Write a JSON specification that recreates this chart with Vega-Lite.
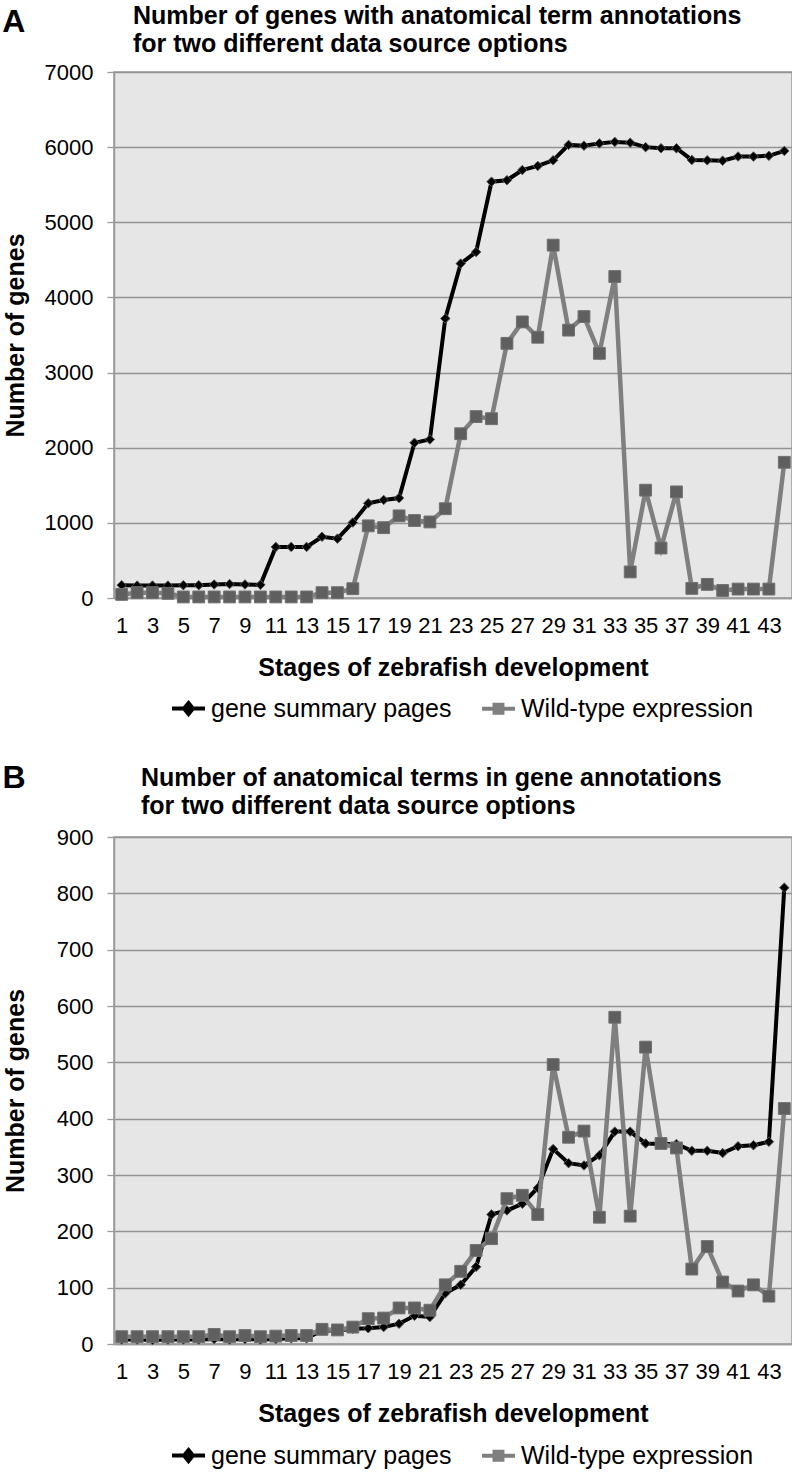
{
  "$schema": "https://vega.github.io/schema/vega-lite/v6.json",
  "background": "white",
  "padding": {"left": 2, "top": 3, "right": 0, "bottom": 0},
  "datasets": {
    "A": [
      {"stage": 1, "series": "gene summary pages", "value": 170}, {"stage": 2, "series": "gene summary pages", "value": 165}, {"stage": 3, "series": "gene summary pages", "value": 165}, {"stage": 4, "series": "gene summary pages", "value": 165}, {"stage": 5, "series": "gene summary pages", "value": 170}, {"stage": 6, "series": "gene summary pages", "value": 170}, {"stage": 7, "series": "gene summary pages", "value": 180}, {"stage": 8, "series": "gene summary pages", "value": 185}, {"stage": 9, "series": "gene summary pages", "value": 180}, {"stage": 10, "series": "gene summary pages", "value": 175},
      {"stage": 11, "series": "gene summary pages", "value": 680}, {"stage": 12, "series": "gene summary pages", "value": 680}, {"stage": 13, "series": "gene summary pages", "value": 680}, {"stage": 14, "series": "gene summary pages", "value": 815}, {"stage": 15, "series": "gene summary pages", "value": 790}, {"stage": 16, "series": "gene summary pages", "value": 1005}, {"stage": 17, "series": "gene summary pages", "value": 1260}, {"stage": 18, "series": "gene summary pages", "value": 1305}, {"stage": 19, "series": "gene summary pages", "value": 1330}, {"stage": 20, "series": "gene summary pages", "value": 2065},
      {"stage": 21, "series": "gene summary pages", "value": 2110}, {"stage": 22, "series": "gene summary pages", "value": 3720}, {"stage": 23, "series": "gene summary pages", "value": 4450}, {"stage": 24, "series": "gene summary pages", "value": 4605}, {"stage": 25, "series": "gene summary pages", "value": 5540}, {"stage": 26, "series": "gene summary pages", "value": 5560}, {"stage": 27, "series": "gene summary pages", "value": 5695}, {"stage": 28, "series": "gene summary pages", "value": 5750}, {"stage": 29, "series": "gene summary pages", "value": 5825}, {"stage": 30, "series": "gene summary pages", "value": 6030},
      {"stage": 31, "series": "gene summary pages", "value": 6020}, {"stage": 32, "series": "gene summary pages", "value": 6050}, {"stage": 33, "series": "gene summary pages", "value": 6070}, {"stage": 34, "series": "gene summary pages", "value": 6060}, {"stage": 35, "series": "gene summary pages", "value": 6000}, {"stage": 36, "series": "gene summary pages", "value": 5985}, {"stage": 37, "series": "gene summary pages", "value": 5985}, {"stage": 38, "series": "gene summary pages", "value": 5830}, {"stage": 39, "series": "gene summary pages", "value": 5825}, {"stage": 40, "series": "gene summary pages", "value": 5820},
      {"stage": 41, "series": "gene summary pages", "value": 5875}, {"stage": 42, "series": "gene summary pages", "value": 5875}, {"stage": 43, "series": "gene summary pages", "value": 5885}, {"stage": 44, "series": "gene summary pages", "value": 5950},
      {"stage": 1, "series": "Wild-type expression", "value": 48}, {"stage": 2, "series": "Wild-type expression", "value": 71}, {"stage": 3, "series": "Wild-type expression", "value": 71}, {"stage": 4, "series": "Wild-type expression", "value": 62}, {"stage": 5, "series": "Wild-type expression", "value": 14}, {"stage": 6, "series": "Wild-type expression", "value": 14}, {"stage": 7, "series": "Wild-type expression", "value": 14}, {"stage": 8, "series": "Wild-type expression", "value": 14}, {"stage": 9, "series": "Wild-type expression", "value": 14}, {"stage": 10, "series": "Wild-type expression", "value": 14},
      {"stage": 11, "series": "Wild-type expression", "value": 14}, {"stage": 12, "series": "Wild-type expression", "value": 14}, {"stage": 13, "series": "Wild-type expression", "value": 14}, {"stage": 14, "series": "Wild-type expression", "value": 71}, {"stage": 15, "series": "Wild-type expression", "value": 71}, {"stage": 16, "series": "Wild-type expression", "value": 124}, {"stage": 17, "series": "Wild-type expression", "value": 960}, {"stage": 18, "series": "Wild-type expression", "value": 936}, {"stage": 19, "series": "Wild-type expression", "value": 1093}, {"stage": 20, "series": "Wild-type expression", "value": 1031},
      {"stage": 21, "series": "Wild-type expression", "value": 1012}, {"stage": 22, "series": "Wild-type expression", "value": 1188}, {"stage": 23, "series": "Wild-type expression", "value": 2186}, {"stage": 24, "series": "Wild-type expression", "value": 2414}, {"stage": 25, "series": "Wild-type expression", "value": 2386}, {"stage": 26, "series": "Wild-type expression", "value": 3389}, {"stage": 27, "series": "Wild-type expression", "value": 3674}, {"stage": 28, "series": "Wild-type expression", "value": 3470}, {"stage": 29, "series": "Wild-type expression", "value": 4696}, {"stage": 30, "series": "Wild-type expression", "value": 3565},
      {"stage": 31, "series": "Wild-type expression", "value": 3745}, {"stage": 32, "series": "Wild-type expression", "value": 3256}, {"stage": 33, "series": "Wild-type expression", "value": 4278}, {"stage": 34, "series": "Wild-type expression", "value": 347}, {"stage": 35, "series": "Wild-type expression", "value": 1435}, {"stage": 36, "series": "Wild-type expression", "value": 665}, {"stage": 37, "series": "Wild-type expression", "value": 1412}, {"stage": 38, "series": "Wild-type expression", "value": 128}, {"stage": 39, "series": "Wild-type expression", "value": 181}, {"stage": 40, "series": "Wild-type expression", "value": 100},
      {"stage": 41, "series": "Wild-type expression", "value": 119}, {"stage": 42, "series": "Wild-type expression", "value": 119}, {"stage": 43, "series": "Wild-type expression", "value": 119}, {"stage": 44, "series": "Wild-type expression", "value": 1806}
    ],
    "B": [
      {"stage": 1, "series": "gene summary pages", "value": 8}, {"stage": 2, "series": "gene summary pages", "value": 8}, {"stage": 3, "series": "gene summary pages", "value": 7}, {"stage": 4, "series": "gene summary pages", "value": 8}, {"stage": 5, "series": "gene summary pages", "value": 8}, {"stage": 6, "series": "gene summary pages", "value": 8}, {"stage": 7, "series": "gene summary pages", "value": 9}, {"stage": 8, "series": "gene summary pages", "value": 8}, {"stage": 9, "series": "gene summary pages", "value": 9}, {"stage": 10, "series": "gene summary pages", "value": 8},
      {"stage": 11, "series": "gene summary pages", "value": 9}, {"stage": 12, "series": "gene summary pages", "value": 10}, {"stage": 13, "series": "gene summary pages", "value": 10}, {"stage": 14, "series": "gene summary pages", "value": 24}, {"stage": 15, "series": "gene summary pages", "value": 24}, {"stage": 16, "series": "gene summary pages", "value": 27}, {"stage": 17, "series": "gene summary pages", "value": 28}, {"stage": 18, "series": "gene summary pages", "value": 30}, {"stage": 19, "series": "gene summary pages", "value": 36}, {"stage": 20, "series": "gene summary pages", "value": 50},
      {"stage": 21, "series": "gene summary pages", "value": 48}, {"stage": 22, "series": "gene summary pages", "value": 90}, {"stage": 23, "series": "gene summary pages", "value": 105}, {"stage": 24, "series": "gene summary pages", "value": 137}, {"stage": 25, "series": "gene summary pages", "value": 230}, {"stage": 26, "series": "gene summary pages", "value": 237}, {"stage": 27, "series": "gene summary pages", "value": 249}, {"stage": 28, "series": "gene summary pages", "value": 277}, {"stage": 29, "series": "gene summary pages", "value": 346}, {"stage": 30, "series": "gene summary pages", "value": 321},
      {"stage": 31, "series": "gene summary pages", "value": 317}, {"stage": 32, "series": "gene summary pages", "value": 335}, {"stage": 33, "series": "gene summary pages", "value": 377}, {"stage": 34, "series": "gene summary pages", "value": 377}, {"stage": 35, "series": "gene summary pages", "value": 356}, {"stage": 36, "series": "gene summary pages", "value": 355}, {"stage": 37, "series": "gene summary pages", "value": 355}, {"stage": 38, "series": "gene summary pages", "value": 343}, {"stage": 39, "series": "gene summary pages", "value": 343}, {"stage": 40, "series": "gene summary pages", "value": 339},
      {"stage": 41, "series": "gene summary pages", "value": 351}, {"stage": 42, "series": "gene summary pages", "value": 353}, {"stage": 43, "series": "gene summary pages", "value": 359}, {"stage": 44, "series": "gene summary pages", "value": 810},
      {"stage": 1, "series": "Wild-type expression", "value": 13}, {"stage": 2, "series": "Wild-type expression", "value": 13}, {"stage": 3, "series": "Wild-type expression", "value": 13}, {"stage": 4, "series": "Wild-type expression", "value": 13}, {"stage": 5, "series": "Wild-type expression", "value": 13}, {"stage": 6, "series": "Wild-type expression", "value": 13}, {"stage": 7, "series": "Wild-type expression", "value": 17}, {"stage": 8, "series": "Wild-type expression", "value": 13}, {"stage": 9, "series": "Wild-type expression", "value": 15}, {"stage": 10, "series": "Wild-type expression", "value": 13},
      {"stage": 11, "series": "Wild-type expression", "value": 14}, {"stage": 12, "series": "Wild-type expression", "value": 15}, {"stage": 13, "series": "Wild-type expression", "value": 15}, {"stage": 14, "series": "Wild-type expression", "value": 26}, {"stage": 15, "series": "Wild-type expression", "value": 25}, {"stage": 16, "series": "Wild-type expression", "value": 30}, {"stage": 17, "series": "Wild-type expression", "value": 45}, {"stage": 18, "series": "Wild-type expression", "value": 46}, {"stage": 19, "series": "Wild-type expression", "value": 64}, {"stage": 20, "series": "Wild-type expression", "value": 64},
      {"stage": 21, "series": "Wild-type expression", "value": 60}, {"stage": 22, "series": "Wild-type expression", "value": 105}, {"stage": 23, "series": "Wild-type expression", "value": 129}, {"stage": 24, "series": "Wild-type expression", "value": 166}, {"stage": 25, "series": "Wild-type expression", "value": 187}, {"stage": 26, "series": "Wild-type expression", "value": 258}, {"stage": 27, "series": "Wild-type expression", "value": 264}, {"stage": 28, "series": "Wild-type expression", "value": 230}, {"stage": 29, "series": "Wild-type expression", "value": 496}, {"stage": 30, "series": "Wild-type expression", "value": 367},
      {"stage": 31, "series": "Wild-type expression", "value": 378}, {"stage": 32, "series": "Wild-type expression", "value": 225}, {"stage": 33, "series": "Wild-type expression", "value": 580}, {"stage": 34, "series": "Wild-type expression", "value": 227}, {"stage": 35, "series": "Wild-type expression", "value": 527}, {"stage": 36, "series": "Wild-type expression", "value": 356}, {"stage": 37, "series": "Wild-type expression", "value": 348}, {"stage": 38, "series": "Wild-type expression", "value": 133}, {"stage": 39, "series": "Wild-type expression", "value": 173}, {"stage": 40, "series": "Wild-type expression", "value": 110},
      {"stage": 41, "series": "Wild-type expression", "value": 94}, {"stage": 42, "series": "Wild-type expression", "value": 105}, {"stage": 43, "series": "Wild-type expression", "value": 85}, {"stage": 44, "series": "Wild-type expression", "value": 418}
    ]
  },
  "config": {
    "font": "Liberation Sans",
    "view": {"fill": "#e6e6e6", "stroke": "#9a9a9a", "strokeWidth": 1.5},
    "axis": {
      "labelFont": "Liberation Sans", "labelFontSize": 22, "labelColor": "#000000",
      "titleFont": "Liberation Sans", "titleFontSize": 25, "titleFontWeight": "bold", "titleColor": "#000000",
      "gridColor": "#939393", "gridWidth": 1.3, "domainColor": "#9a9a9a", "domainWidth": 1.5, "tickColor": "#9a9a9a", "tickWidth": 1.3
    },
    "title": {"font": "Liberation Sans", "fontSize": 25, "fontWeight": "bold", "color": "#000000"}
  },
  "resolve": {"scale": {"color": "independent"}, "legend": {"color": "independent"}},
  "spacing": 40,
  "vconcat": [
    {
      "title": {"text": "A", "anchor": "start", "frame": "bounds", "fontSize": 32, "offset": 0, "dy": 36},
      "vconcat": [
        {
          "width": 678, "height": 526,
          "title": {"text": ["Number of genes with anatomical term annotations", "for two different data source options"], "anchor": "start", "frame": "group", "dx": 19, "offset": 4, "lineHeight": 28},
          "data": {"name": "A"},
          "encoding": {
            "x": {"field": "stage", "type": "ordinal", "axis": {"values": [1,3,5,7,9,11,13,15,17,19,21,23,25,27,29,31,33,35,37,39,41,43], "labelAngle": 0, "ticks": false, "grid": false, "labelPadding": 17, "titlePadding": 19, "title": "Stages of zebrafish development", "labelOverlap": false}},
            "y": {"field": "value", "type": "quantitative", "scale": {"domain": [0, 7000], "nice": false}, "axis": {"values": [0,1000,2000,3000,4000,5000,6000,7000], "format": "d", "tickSize": 7, "labelPadding": 14, "titlePadding": 16, "title": "Number of genes"}}
          },
          "layer": [
            {"transform": [{"filter": "datum.series === 'gene summary pages'"}], "mark": {"type": "line", "strokeWidth": 4},
             "encoding": {"color": {"field": "series", "type": "nominal", "scale": {"domain": ["gene summary pages", "Wild-type expression"], "range": ["#000000", "#7f7f7f"]},
               "legend": {"title": null, "orient": "none", "legendX": 56, "legendY": 618, "direction": "horizontal", "symbolSize": 1089, "symbolStrokeWidth": 4, "labelFontSize": 25, "labelFont": "Liberation Sans", "labelColor": "#000000", "labelOffset": 4, "columnPadding": 22, "padding": 0, "labelLimit": 400,
                 "encode": {"symbols": {"update": {"shape": {"signal": "datum.value === 'gene summary pages' ? 'M-1,0H1M0,-0.33L0.27,0L0,0.33L-0.27,0Z' : 'M-1,0H1M-0.24,-0.24H0.24V0.24H-0.24Z'"}, "fill": {"signal": "datum.value === 'gene summary pages' ? '#000000' : '#606060'"}, "stroke": {"signal": "datum.value === 'gene summary pages' ? '#000000' : '#7f7f7f'"}, "fillOpacity": {"value": 1}, "strokeOpacity": {"value": 1}}}}}}}},
            {"transform": [{"filter": "datum.series === 'gene summary pages'"}], "mark": {"type": "point", "shape": "diamond", "filled": true, "fill": "#000000", "stroke": "#555555", "strokeWidth": 1, "size": 90, "opacity": 1}},
            {"transform": [{"filter": "datum.series === 'Wild-type expression'"}], "mark": {"type": "line", "strokeWidth": 4.5},
             "encoding": {"color": {"field": "series", "type": "nominal", "scale": {"domain": ["gene summary pages", "Wild-type expression"], "range": ["#000000", "#7f7f7f"]}}}},
            {"transform": [{"filter": "datum.series === 'Wild-type expression'"}], "mark": {"type": "point", "shape": "square", "filled": true, "fill": "#5f5f5f", "stroke": "#707070", "strokeWidth": 1, "size": 140, "opacity": 1}}
          ]
        }
      ]
    },
    {
      "title": {"text": "B", "anchor": "start", "frame": "bounds", "fontSize": 32, "offset": 0, "dy": 30},
      "vconcat": [
        {
          "width": 678, "height": 507,
          "title": {"text": ["Number of anatomical terms in gene annotations", "for two different data source options"], "anchor": "start", "frame": "group", "dx": 27, "offset": 7, "lineHeight": 28},
          "data": {"name": "B"},
          "encoding": {
            "x": {"field": "stage", "type": "ordinal", "axis": {"values": [1,3,5,7,9,11,13,15,17,19,21,23,25,27,29,31,33,35,37,39,41,43], "labelAngle": 0, "ticks": false, "grid": false, "labelPadding": 17, "titlePadding": 19, "title": "Stages of zebrafish development", "labelOverlap": false}},
            "y": {"field": "value", "type": "quantitative", "scale": {"domain": [0, 900], "nice": false}, "axis": {"values": [0,100,200,300,400,500,600,700,800,900], "format": "d", "tickSize": 7, "labelPadding": 14, "titlePadding": 28, "title": "Number of genes"}}
          },
          "layer": [
            {"transform": [{"filter": "datum.series === 'gene summary pages'"}], "mark": {"type": "line", "strokeWidth": 4},
             "encoding": {"color": {"field": "series", "type": "nominal", "scale": {"domain": ["gene summary pages", "Wild-type expression"], "range": ["#000000", "#7f7f7f"]},
               "legend": {"title": null, "orient": "none", "legendX": 56, "legendY": 600, "direction": "horizontal", "symbolSize": 1089, "symbolStrokeWidth": 4, "labelFontSize": 25, "labelFont": "Liberation Sans", "labelColor": "#000000", "labelOffset": 4, "columnPadding": 22, "padding": 0, "labelLimit": 400,
                 "encode": {"symbols": {"update": {"shape": {"signal": "datum.value === 'gene summary pages' ? 'M-1,0H1M0,-0.33L0.27,0L0,0.33L-0.27,0Z' : 'M-1,0H1M-0.24,-0.24H0.24V0.24H-0.24Z'"}, "fill": {"signal": "datum.value === 'gene summary pages' ? '#000000' : '#606060'"}, "stroke": {"signal": "datum.value === 'gene summary pages' ? '#000000' : '#7f7f7f'"}, "fillOpacity": {"value": 1}, "strokeOpacity": {"value": 1}}}}}}}},
            {"transform": [{"filter": "datum.series === 'gene summary pages'"}], "mark": {"type": "point", "shape": "diamond", "filled": true, "fill": "#000000", "stroke": "#555555", "strokeWidth": 1, "size": 90, "opacity": 1}},
            {"transform": [{"filter": "datum.series === 'Wild-type expression'"}], "mark": {"type": "line", "strokeWidth": 4.5},
             "encoding": {"color": {"field": "series", "type": "nominal", "scale": {"domain": ["gene summary pages", "Wild-type expression"], "range": ["#000000", "#7f7f7f"]}}}},
            {"transform": [{"filter": "datum.series === 'Wild-type expression'"}], "mark": {"type": "point", "shape": "square", "filled": true, "fill": "#5f5f5f", "stroke": "#707070", "strokeWidth": 1, "size": 140, "opacity": 1}}
          ]
        }
      ]
    }
  ]
}
